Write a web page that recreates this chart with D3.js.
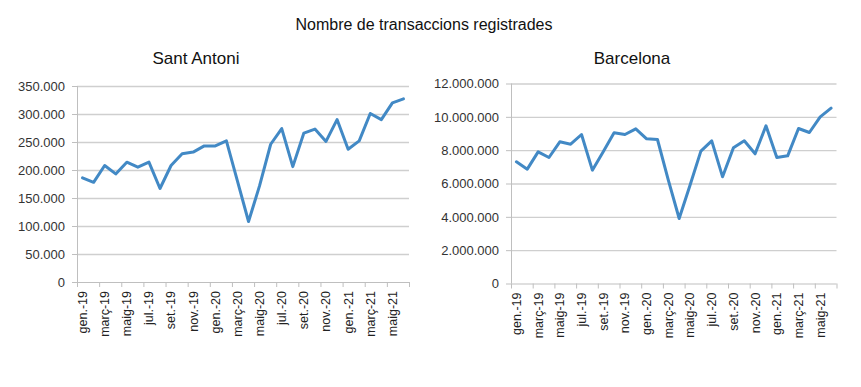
<!DOCTYPE html>
<html>
<head>
<meta charset="utf-8">
<script src="https://cdn.jsdelivr.net/npm/d3@7"></script>
<style>
  body { margin: 0; background: #fff; }
  svg { font-family: "Liberation Sans", Arial, sans-serif; }
</style>
</head>
<body>
<div id="chart"></div>
<script>
// Categories (monthly, gen.-19 .. juny-21)
const months = [
    'gen.-19', 'febr.-19', 'març-19', 'abr.-19', 'maig-19', 'juny-19', 'jul.-19', 'ag.-19', 'set.-19', 'oct.-19', 'nov.-19', 'des.-19',
    'gen.-20', 'febr.-20', 'març-20', 'abr.-20', 'maig-20', 'juny-20', 'jul.-20', 'ag.-20', 'set.-20', 'oct.-20', 'nov.-20', 'des.-20',
    'gen.-21', 'febr.-21', 'març-21', 'abr.-21', 'maig-21', 'juny-21'
];

// Series values
const santAntoni = [
    186000, 178000, 208000, 193000, 214000, 205000, 214000, 167000, 208000, 229000, 232000, 243000,
    243000, 252000, 180000, 108000, 172000, 246000, 274000, 206000, 266000, 273000, 251000, 290000,
    237000, 252000, 301000, 290000, 320000, 327000
];
const barcelona = [
    7300000, 6860000, 7900000, 7560000, 8500000, 8360000, 8940000, 6800000, 7900000, 9040000, 8940000, 9280000,
    8680000, 8640000, 6200000, 3900000, 5900000, 7940000, 8560000, 6400000, 8140000, 8560000, 7780000, 9460000,
    7560000, 7660000, 9300000, 9060000, 10000000, 10520000
];

// Tick values
const santAntoniTicks = [0, 50000, 100000, 150000, 200000, 250000, 300000, 350000];
const barcelonaTicks = [0, 2000000, 4000000, 6000000, 8000000, 10000000, 12000000];

const locale = d3.formatLocale({ decimal: ',', thousands: '.', grouping: [3], currency: ['', '€'] });
const fmt = locale.format(',d');

const width = 861, height = 387;

const svg = d3.select('#chart')
    .append('svg')
    .attr('width', width)
    .attr('height', height);

svg.append('text')
    .attr('x', 424)
    .attr('y', 30)
    .attr('text-anchor', 'middle')
    .attr('font-size', 16)
    .attr('fill', '#111')
    .text('Nombre de transaccions registrades');

function panel(opts) {
    const { title, values, ticks, x0, x1, y0, y1, titleX } = opts;

    const x = d3.scaleBand()
        .domain(months)
        .range([x0, x1])
        .padding(0);

    const y = d3.scaleLinear()
        .domain([0, d3.max(ticks)])
        .range([y1, y0]);

    const g = svg.append('g');

    svg.append('text')
        .attr('x', titleX)
        .attr('y', 64)
        .attr('text-anchor', 'middle')
        .attr('font-size', 17)
        .attr('fill', '#111')
        .text(title);

    // Gridlines + y labels
    const yAxis = g.append('g')
        .attr('transform', `translate(${x0},0)`)
        .call(d3.axisLeft(y).tickValues(ticks).tickSize(5).tickPadding(7).tickFormat(fmt));
    yAxis.select('.domain').remove();
    yAxis.selectAll('.tick line').attr('stroke', '#bfbfbf');
    yAxis.selectAll('.tick text')
        .attr('font-size', 13)
        .attr('fill', '#333')
        .attr('font-family', '"Liberation Sans", Arial, sans-serif');

    g.append('g')
        .selectAll('line')
        .data(ticks.filter(d => d > 0))
        .join('line')
        .attr('x1', x0)
        .attr('x2', x1)
        .attr('y1', d => y(d) + 0.5)
        .attr('y2', d => y(d) + 0.5)
        .attr('stroke', '#cfcfcf')
        .attr('stroke-width', 1.3);

    // Vertical axis line
    g.append('line')
        .attr('x1', x0 + 0.5).attr('x2', x0 + 0.5)
        .attr('y1', y0).attr('y2', y1)
        .attr('stroke', '#bfbfbf');

    // X axis: labels at every other category centre
    const labelMonths = months.filter((d, i) => i % 2 === 0);
    const xAxis = g.append('g')
        .attr('transform', `translate(0,${y1})`)
        .call(d3.axisBottom(x).tickValues(labelMonths).tickSize(0).tickPadding(0));
    xAxis.select('.domain').remove();
    xAxis.selectAll('.tick text')
        .attr('font-size', 12.5)
        .attr('fill', '#222')
        .attr('font-family', '"Liberation Sans", Arial, sans-serif')
        .attr('text-anchor', 'end')
        .attr('transform', 'rotate(-90)')
        .attr('x', -9)
        .attr('y', 0)
        .attr('dy', '0.35em');

    g.append('line')
        .attr('x1', x0).attr('x2', x1)
        .attr('y1', y1 + 0.5).attr('y2', y1 + 0.5)
        .attr('stroke', '#bfbfbf');

    // Tick marks at band edges every 2 categories
    const edges = labelMonths.map(d => x(d)).concat([x1]);
    g.append('g')
        .selectAll('line')
        .data(edges)
        .join('line')
        .attr('x1', d => d + 0.5)
        .attr('x2', d => d + 0.5)
        .attr('y1', y1)
        .attr('y2', y1 + 5)
        .attr('stroke', '#bfbfbf');

    const line = d3.line()
        .x((d, i) => x(months[i]) + x.bandwidth() / 2)
        .y(d => y(d));

    g.append('path')
        .datum(values)
        .attr('d', line)
        .attr('fill', 'none')
        .attr('stroke', '#4289c5')
        .attr('stroke-width', 3)
        .attr('stroke-linejoin', 'round')
        .attr('stroke-linecap', 'round');
}

panel({ title: 'Sant Antoni', values: santAntoni, ticks: santAntoniTicks, x0: 77, x1: 409, y0: 86, y1: 282, titleX: 196 });
panel({ title: 'Barcelona', values: barcelona, ticks: barcelonaTicks, x0: 511, x1: 836.5, y0: 83.5, y1: 283.5, titleX: 632 });
</script>
</body>
</html>
